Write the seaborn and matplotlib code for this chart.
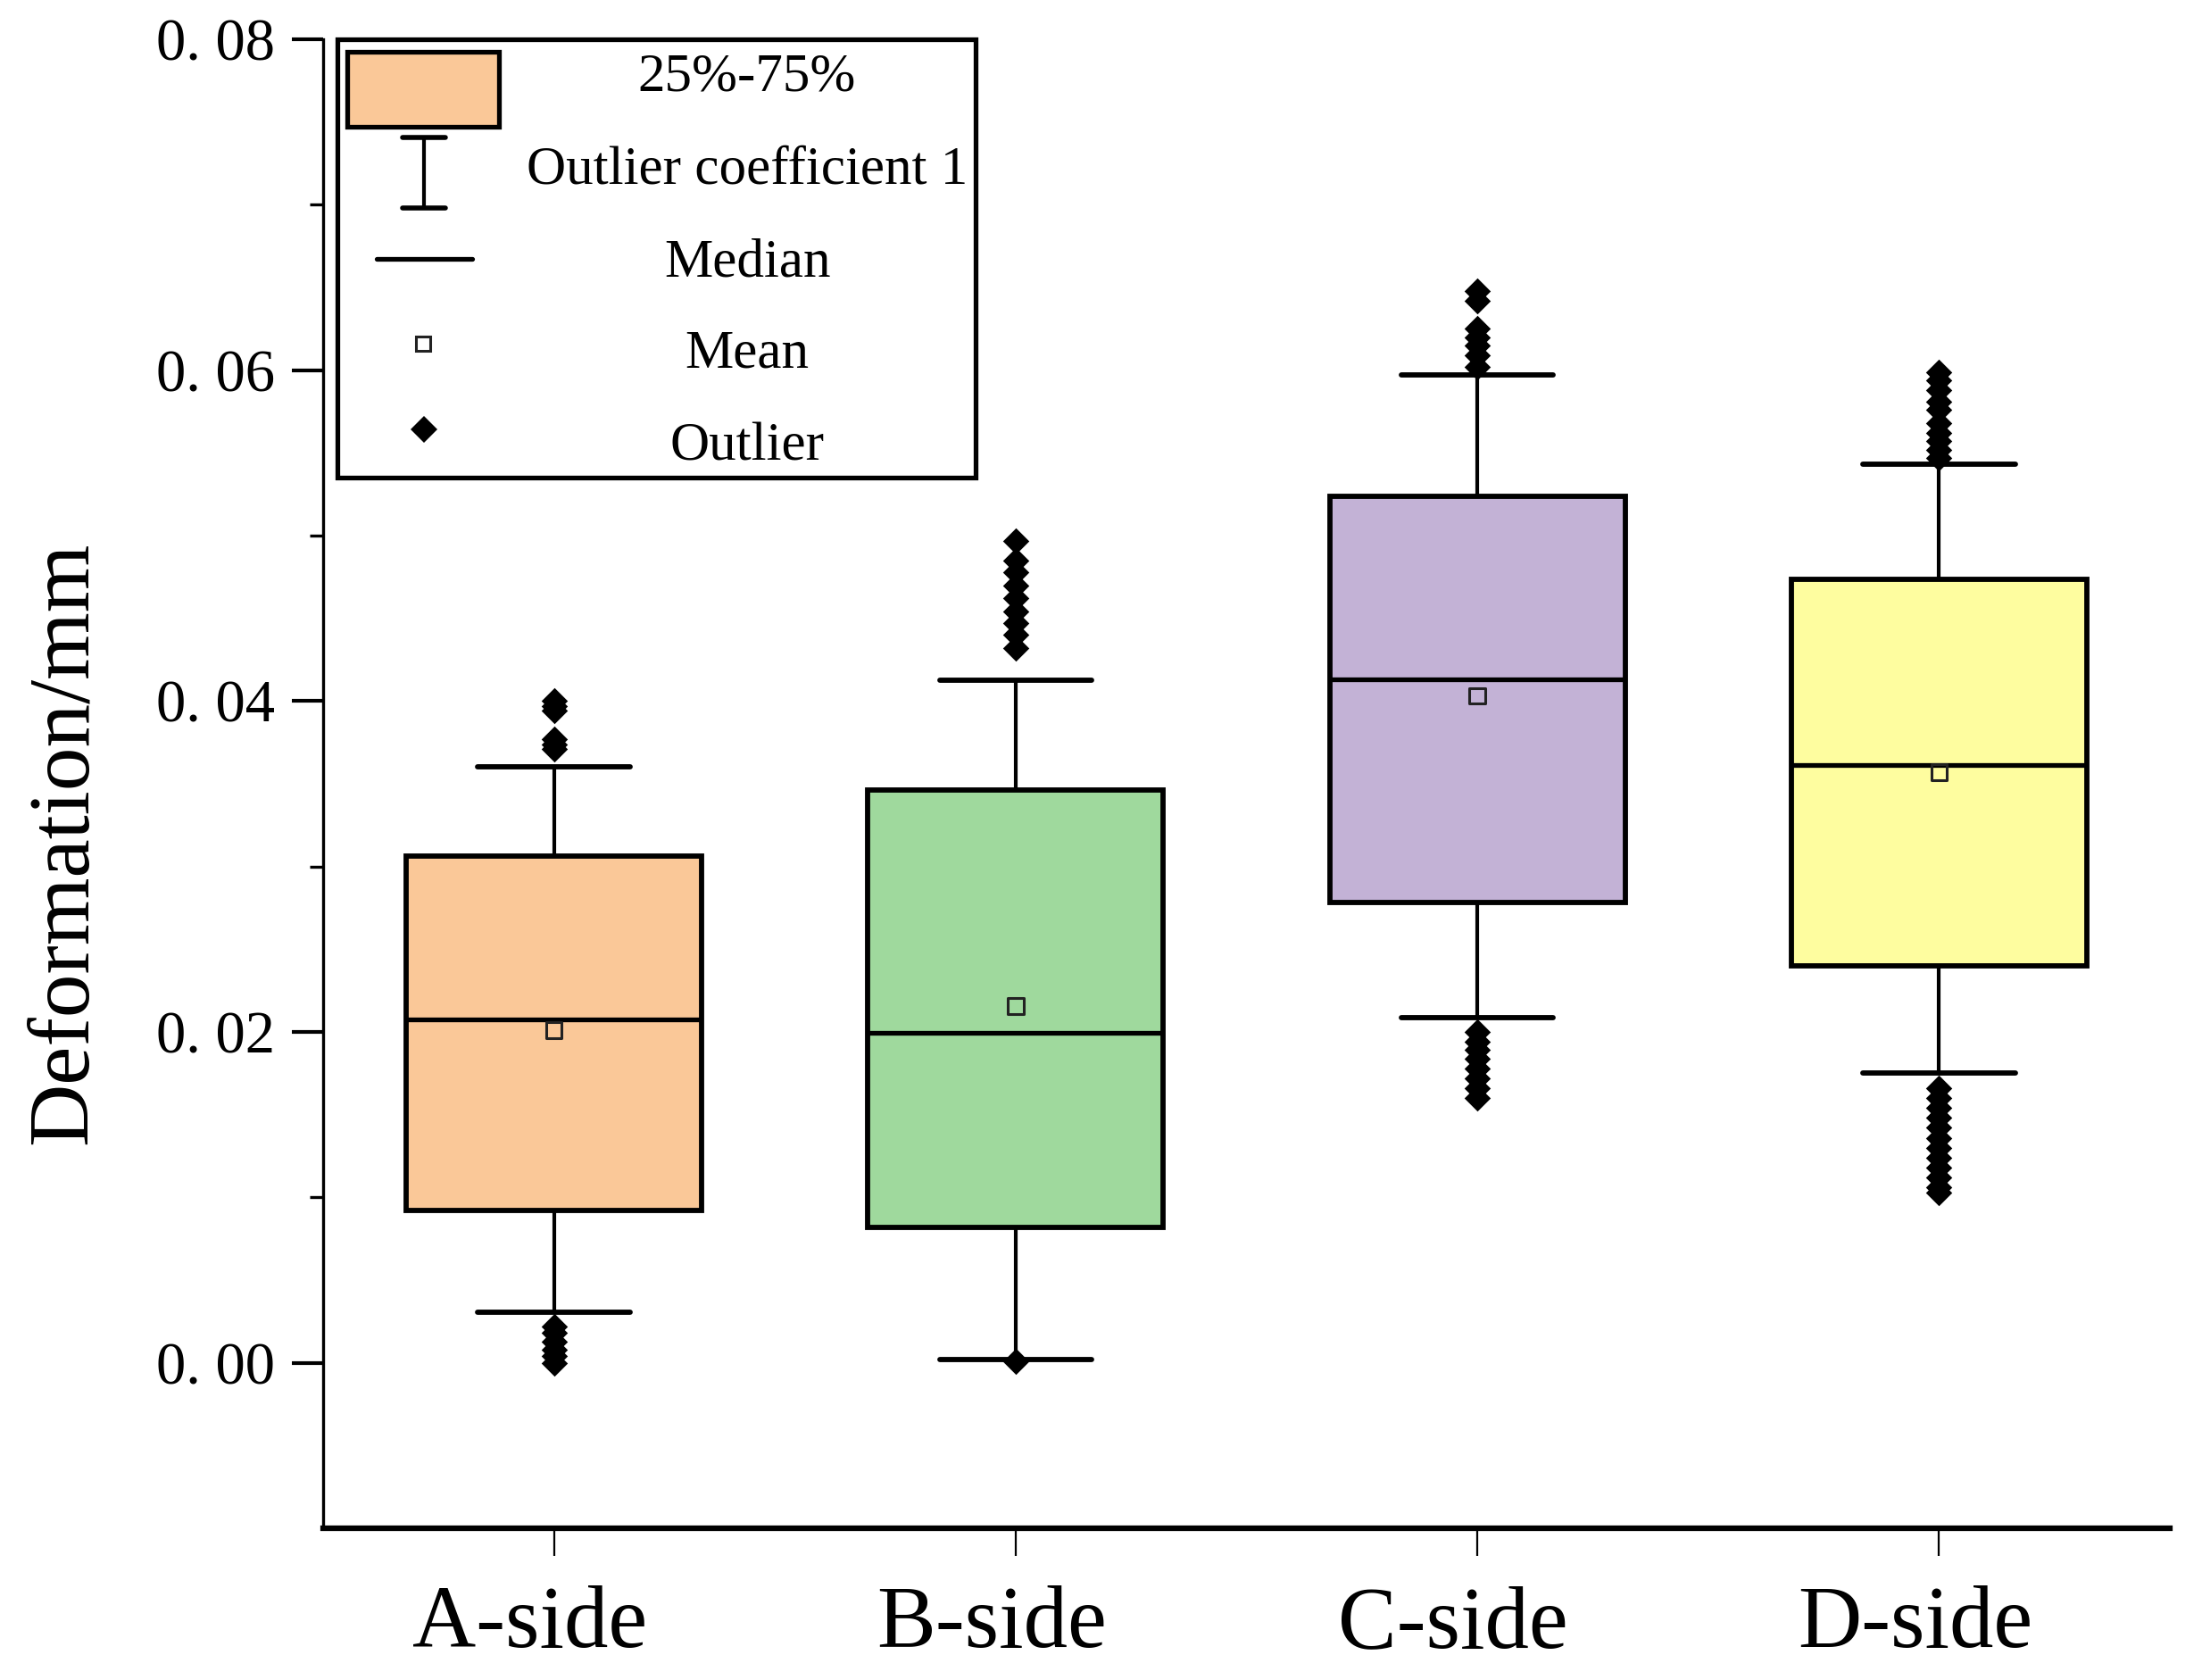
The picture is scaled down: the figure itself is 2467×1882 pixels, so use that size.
import numpy as np
import pandas as pd
import matplotlib
matplotlib.use('Agg')
import matplotlib.pyplot as plt
import matplotlib.transforms as mtransforms
import seaborn as sns
from matplotlib import font_manager
from matplotlib.lines import Line2D
from matplotlib.patches import Rectangle
from matplotlib.ticker import FuncFormatter

# box statistics
sides = ['A-side', 'B-side', 'C-side', 'D-side']
q1 = [0.00922, 0.00818, 0.02783, 0.0240]
q3 = [0.03064, 0.03464, 0.05239, 0.04737]
medians = [0.02073, 0.01993, 0.0413, 0.03616]
means = [0.0201, 0.02156, 0.0403, 0.0357]
whisker_low = [0.00304, 0.00021, 0.02085, 0.0175]
whisker_high = [0.0360, 0.04128, 0.0597, 0.0543]

outliers_a = [0.0400, 0.0397, 0.0394, 0.0377, 0.0374, 0.0371,
              0.0022, 0.0018, 0.0013, 0.0008, 0.0004, 0.0000]
outliers_b = [0.0497, 0.0485, 0.0478, 0.0470, 0.0462, 0.0454, 0.0447, 0.0440, 0.0432,
              0.0001]
outliers_c = [0.0648, 0.0642, 0.0625, 0.0620, 0.0615, 0.0609, 0.0602,
              0.0200, 0.0194, 0.0189, 0.0184, 0.0178, 0.0172, 0.0166, 0.0160]
outliers_d = [0.0599, 0.0594, 0.0588, 0.0581, 0.0576, 0.0568, 0.0562, 0.0557, 0.0552, 0.0547,
              0.0166, 0.0160, 0.0154, 0.0148, 0.0142, 0.0136, 0.0130, 0.0124, 0.0118,
              0.0112, 0.0106, 0.0103]

box_colors = ['#FAC898', '#9FD99D', '#C3B2D6', '#FEFD9F']

sns.set_style('ticks')
plt.rcParams['font.family'] = ['Liberation Serif', 'DejaVu Serif']
plt.rcParams['text.color'] = 'black'
plt.rcParams['axes.labelcolor'] = 'black'
plt.rcParams['xtick.color'] = 'black'
plt.rcParams['ytick.color'] = 'black'
plt.rcParams['axes.edgecolor'] = 'black'

names = {f.name for f in font_manager.fontManager.ttflist}
if 'Liberation Sans Narrow' in names:
    tick_font, tick_size = 'Liberation Sans Narrow', 52
else:
    tick_font, tick_size = 'Liberation Serif', 48

W, H = 2467, 1882
fig = plt.figure(figsize=(W / 100, H / 100), dpi=100)
ax = fig.add_axes([362 / W, 170 / H, 2069 / W, 1668 / H])

stats = []
for i in range(len(sides)):
    stats.append(dict(label=sides[i], q1=q1[i], q3=q3[i], med=medians[i], mean=means[i],
                      whislo=whisker_low[i], whishi=whisker_high[i], fliers=[]))

bp = ax.bxp(stats, positions=range(len(sides)), widths=0.64, capwidths=0.33,
            patch_artist=True, showfliers=False, showmeans=False, manage_ticks=False,
            boxprops=dict(linewidth=4.2, edgecolor='black'),
            medianprops=dict(color='black', linewidth=3.8),
            whiskerprops=dict(color='black', linewidth=3.0),
            capprops=dict(color='black', linewidth=4.2))
for patch, c in zip(bp['boxes'], box_colors):
    patch.set_facecolor(c)

out_df = pd.DataFrame({
    'side': ['A-side'] * len(outliers_a) + ['B-side'] * len(outliers_b)
            + ['C-side'] * len(outliers_c) + ['D-side'] * len(outliers_d),
    'value': outliers_a + outliers_b + outliers_c + outliers_d,
})
sns.stripplot(data=out_df, x='side', y='value', order=sides, jitter=False, marker='D',
              color='black', size=15, linewidth=0, zorder=4, ax=ax)

mean_df = pd.DataFrame({'side': sides, 'value': means})
sns.stripplot(data=mean_df, x='side', y='value', order=sides, jitter=False, marker='s',
              facecolor='none', edgecolor='#222222', linewidth=2.2, size=12.5, zorder=5, ax=ax)

ax.set_xlim(-0.5, 3.5)
ax.set_ylim(-0.01, 0.08)
ax.set_xticks(range(len(sides)))
ax.set_xticklabels(sides, fontsize=71)
ax.set_yticks([0.0, 0.02, 0.04, 0.06, 0.08])
ax.set_yticks([0.01, 0.03, 0.05, 0.07], minor=True)
ax.yaxis.set_major_formatter(FuncFormatter(lambda v, p: f'{v:.2f}'.replace('.', '. ')))
for lab in ax.get_yticklabels():
    lab.set_fontfamily(tick_font)
    lab.set_fontsize(tick_size)

ax.set_xlabel('')
ax.set_ylabel('Deformation/mm', fontsize=70)
ax.yaxis.set_label_coords(-0.118, 0.46)

sns.despine(ax=ax)
ax.spines['left'].set_linewidth(2.4)
ax.spines['bottom'].set_linewidth(4.5)
ax.tick_params(axis='y', which='major', direction='out', length=25, width=3, pad=14)
ax.tick_params(axis='y', which='minor', direction='out', length=11, width=2.4)
ax.tick_params(axis='x', which='major', direction='out', length=22, width=1.6, pad=24)
ax.grid(False)

# labels sit a little left of their ticks in the original
shift = mtransforms.ScaledTranslation(-0.27, 0, fig.dpi_scale_trans)
for tick in ax.xaxis.get_major_ticks():
    tick.label1.set_transform(tick.label1.get_transform() + shift)


# legend box drawn by hand, in image pixel positions
def fx(x):
    return x / W


def fy(y):
    return 1 - y / H


tf = fig.transFigure
fig.add_artist(Rectangle((fx(378), fy(535)), fx(1093) - fx(378), fy(44) - fy(535),
                         transform=tf, facecolor='none', edgecolor='black', linewidth=3.8))
fig.add_artist(Rectangle((fx(389), fy(142)), fx(559) - fx(389), fy(58) - fy(142),
                         transform=tf, facecolor=box_colors[0], edgecolor='black', linewidth=3.8))
fig.add_artist(Line2D([fx(475), fx(475)], [fy(154), fy(233)], transform=tf, color='black', lw=3.0))
fig.add_artist(Line2D([fx(451), fx(499)], [fy(154), fy(154)], transform=tf, color='black', lw=4.0))
fig.add_artist(Line2D([fx(451), fx(499)], [fy(233), fy(233)], transform=tf, color='black', lw=4.0))
fig.add_artist(Line2D([fx(422), fx(529)], [fy(290), fy(290)], transform=tf, color='black', lw=3.8))
fig.add_artist(Line2D([fx(474)], [fy(385)], transform=tf, marker='s', markersize=12,
                      markerfacecolor='none', markeredgecolor='#222222', markeredgewidth=2.2))
fig.add_artist(Line2D([fx(475)], [fy(481)], transform=tf, marker='D', markersize=15,
                      color='black', markeredgewidth=0))

legend_labels = ['25%-75%', 'Outlier coefficient 1', 'Median', 'Mean', 'Outlier']
legend_y = [87, 191, 295, 397, 501]
for lab, y in zip(legend_labels, legend_y):
    fig.text(fx(837), fy(y), lab, ha='center', va='center', fontsize=44)

fig.savefig('out.png', dpi=100)
